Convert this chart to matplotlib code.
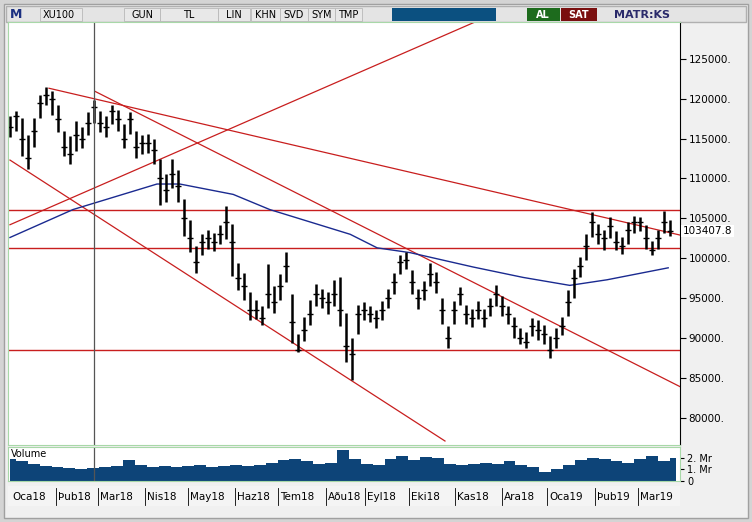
import matplotlib.pyplot as plt
from matplotlib.patches import Rectangle

# XU100 daily prices (thousands), sampled every ~3 trading days, Oca18 -> Mar19
close = [116.5,117.8,115.0,112.5,116.0,119.5,120.5,120.0,117.5,114.0,
         113.0,115.5,115.0,117.0,119.0,117.0,116.5,118.5,117.5,115.0,
         117.5,114.0,114.5,114.5,113.5,110.0,108.5,110.5,109.0,105.0,
         102.5,99.5,102.0,102.5,102.0,103.0,104.5,102.0,97.5,96.5,
         93.5,93.5,92.5,95.5,94.5,96.5,99.0,92.0,88.5,91.0,
         93.0,95.5,95.0,94.5,95.5,93.5,89.0,88.0,93.0,93.5,
         93.0,92.5,93.5,95.0,97.0,99.5,99.8,97.0,95.0,96.0,
         98.0,97.0,93.5,90.0,93.5,95.5,93.0,92.5,93.5,92.5,
         94.0,95.5,94.0,93.0,91.5,90.0,89.5,91.5,91.0,90.5,
         88.5,90.0,91.5,94.5,97.5,99.0,101.5,104.5,103.0,102.5,
         104.0,102.0,101.5,103.5,104.5,104.5,102.5,101.0,102.5,104.5,103.4]
high = [117.8,118.5,117.6,115.5,117.6,120.4,121.5,121.0,119.2,116.0,
        115.3,117.2,116.5,118.3,119.8,118.5,117.8,119.2,118.6,116.8,
        118.3,116.0,115.5,115.6,115.0,112.4,110.5,112.4,111.0,107.4,
        104.8,101.5,103.0,103.6,103.2,104.2,106.6,104.3,99.4,98.2,
        95.8,94.8,94.0,99.3,96.5,98.0,100.8,95.5,90.5,92.6,
        94.8,96.8,96.2,95.8,97.3,97.7,93.2,90.0,94.2,94.5,
        94.0,93.5,94.6,96.2,98.2,100.4,100.8,98.5,96.2,97.2,
        99.4,98.3,95.0,91.5,94.6,96.4,94.2,93.6,94.6,93.6,
        95.0,96.7,95.3,94.0,92.6,91.3,90.8,92.5,92.2,91.6,
        90.2,91.3,92.7,96.0,98.6,100.2,103.0,105.8,104.3,103.6,
        105.2,103.4,102.6,104.5,105.3,105.2,104.2,102.2,103.6,105.9,104.8]
low = [115.2,116.0,112.8,111.2,114.0,117.6,119.2,118.0,115.8,112.8,
       111.8,113.4,113.8,115.5,117.0,115.8,115.2,116.8,116.0,113.8,
       115.6,112.6,113.0,113.2,111.8,106.7,107.0,108.8,107.0,102.8,
       100.8,98.2,100.4,101.2,100.9,101.8,102.4,97.8,96.0,94.8,
       92.2,92.4,91.6,93.8,93.2,94.8,97.0,89.4,88.2,89.6,
       91.6,94.0,93.8,93.0,94.0,91.5,87.0,84.8,90.5,92.3,
       92.0,91.3,92.3,93.8,95.5,98.0,98.6,95.5,93.6,94.8,
       96.5,95.6,91.8,88.8,91.8,94.2,91.8,91.4,92.4,91.4,
       92.8,94.0,92.8,91.8,90.0,89.2,88.8,90.3,89.8,89.3,
       87.5,88.8,90.4,92.8,95.0,97.6,99.8,102.6,101.8,101.0,
       102.5,101.0,100.5,101.8,103.2,103.4,101.2,100.4,101.2,103.2,102.8]

# 200-day moving average, read at a few points
ma_idx = [0, 10.5, 24.5, 28.3, 37.2, 43.3, 56.7, 61.2, 66.7, 77.2, 85.5, 93.3, 99.5, 109.7]
ma_val = [102.6, 106.1, 109.3, 109.3, 108.0, 106.1, 103.0, 101.3, 100.7, 98.9, 97.6, 96.6, 97.3, 98.8]

# volume (billions, "Mr"), every ~6 trading days
volume = [1.9,1.7,1.5,1.3,1.2,1.1,1.0,1.1,1.2,1.3,1.8,1.4,1.2,1.3,1.2,1.3,1.4,1.2,1.3,1.4,
          1.3,1.4,1.6,1.8,1.9,1.7,1.5,1.6,2.7,1.9,1.5,1.4,1.9,2.2,1.8,2.1,2.0,1.5,1.4,1.5,
          1.6,1.5,1.7,1.4,1.2,0.8,1.0,1.4,1.8,2.0,1.9,1.7,1.6,1.9,2.2,1.7,2.0]

months = ["Oca18","Þub18","Mar18","Nis18","May18","Haz18","Tem18","Aðu18",
          "Eyl18","Eki18","Kas18","Ara18","Oca19","Þub19","Mar19"]
month_idx = [0, 7.7, 14.7, 22.5, 29.7, 37.5, 44.7, 52.7, 59.2, 66.5, 74.2, 82, 89.5, 97.5, 104.7]

levels = [106.0, 101.3, 88.5]
trends = [((6.5, 121.3), (111.7, 102.9)),
          ((14.2, 120.9), (111.7, 83.9)),
          ((0, 112.3), (72.5, 77.1)),
          ((0, 104.2), (77.5, 129.6))]
last_price = 103407.8

W, H = 752, 522
fig = plt.figure(figsize=(W / 100, H / 100), dpi=100)
fig.patch.set_facecolor("#d4d4d4")

# window chrome
bg = fig.add_axes([0, 0, 1, 1])
bg.set_xlim(0, W)
bg.set_ylim(H, 0)
bg.axis("off")
bg.add_patch(Rectangle((4, 4), 744, 514, fc="#f0f0f0", ec="#a0a0a0"))
bg.add_patch(Rectangle((6, 6), 740, 16, fc="#e4e4e4", ec="#b0b0b0"))
bg.text(10, 15, "M", color="#1a2f80", fontsize=9, fontweight="bold", va="center")
items = [("XU100", 40, 82), ("GUN", 124, 160), ("TL", 160, 218), ("LIN", 218, 250),
         ("KHN", 251, 280), ("SVD", 280, 308), ("SYM", 308, 335), ("TMP", 335, 362)]
for lab, x0, x1 in items:
    bg.add_patch(Rectangle((x0, 8), x1 - x0, 13, fc="#e8e8e8", ec="#b8b8b8", lw=0.6))
    bg.text(x0 + 3 if lab == "XU100" else (x0 + x1) / 2, 15, lab, fontsize=7,
            ha="left" if lab == "XU100" else "center", va="center", family="DejaVu Sans")
bg.add_patch(Rectangle((392, 8), 104, 13, fc="#0b5080"))
bg.add_patch(Rectangle((527, 8), 33, 13, fc="#1d6b1d"))
bg.text(543, 15, "AL", color="white", fontsize=7, fontweight="bold", ha="center", va="center")
bg.add_patch(Rectangle((561, 8), 36, 13, fc="#7a0f0f"))
bg.text(579, 15, "SAT", color="white", fontsize=7, fontweight="bold", ha="center", va="center")
bg.text(642, 15, "MATR:KS", color="#2a2a6a", fontsize=8, fontweight="bold", ha="center", va="center")
bg.add_patch(Rectangle((8, 486), 672, 20, fc="#f4f4f4", ec="none"))

x = list(range(len(close)))
xl = (-0.33, 111.67)

ax = fig.add_axes([8 / W, 1 - 445 / H, 672 / W, 423 / H])
ax.set_facecolor("white")
ax.set_xlim(*xl)
ax.set_ylim(76.6, 129.6)
for lv in levels:
    ax.plot(xl, [lv, lv], color="#c81e1e", lw=1)
for (x0, y0), (x1, y1) in trends:
    ax.plot([x0, x1], [y0, y1], color="#c81e1e", lw=0.9)
ax.plot(ma_idx, ma_val, color="#1a2a90", lw=1)
ax.vlines(x, low, high, color="black", lw=1.8)
ax.hlines(close, [i - 0.45 for i in x], [i + 0.45 for i in x], color="black", lw=1)
ax.axvline(14, color="#555555", lw=0.9)
ax.yaxis.tick_right()
ax.set_yticks([80, 85, 90, 95, 100, 105, 110, 115, 120, 125])
ax.set_yticklabels([f"{v}000." for v in [80, 85, 90, 95, 100, 105, 110, 115, 120, 125]], fontsize=7.5)
ax.tick_params(axis="y", length=4, pad=2)
ax.set_xticks([])
for s in ax.spines.values():
    s.set_color("#a8d8a8")
ax.spines["right"].set_color("black")
ax.text(1.004, (last_price / 1000 - 76.6) / 53.0, f"{last_price:.1f}", transform=ax.transAxes,
        fontsize=7.5, va="center", ha="left", bbox=dict(fc="white", ec="none", pad=1))

vx = [i * 111 / (len(volume) - 1) for i in range(len(volume))]
vax = fig.add_axes([8 / W, 1 - 481 / H, 672 / W, 34 / H])
vax.set_xlim(*xl)
vax.set_ylim(0, 2.95)
vax.fill_between(vx, volume, step="mid", color="#0d4478", lw=0)
vax.axvline(14, color="#555555", lw=0.9)
vax.yaxis.tick_right()
vax.set_yticks([0, 1, 2])
vax.set_yticklabels(["0", "1. Mr", "2. Mr"], fontsize=7)
vax.tick_params(axis="y", length=3, pad=2)
vax.set_xticks([])
vax.text(0.005, 0.95, "Volume", transform=vax.transAxes, fontsize=7, va="top")
for s in vax.spines.values():
    s.set_color("#a8d8a8")

for m, mi in zip(months, month_idx):
    px = 10 + 6 * mi
    if mi > 0:
        bg.plot([px, px], [488, 505], color="black", lw=0.6)
    bg.text(px + 2, 497, m, fontsize=7.5, va="center", ha="left")

fig.savefig("out.png", dpi=100, facecolor=fig.get_facecolor())
